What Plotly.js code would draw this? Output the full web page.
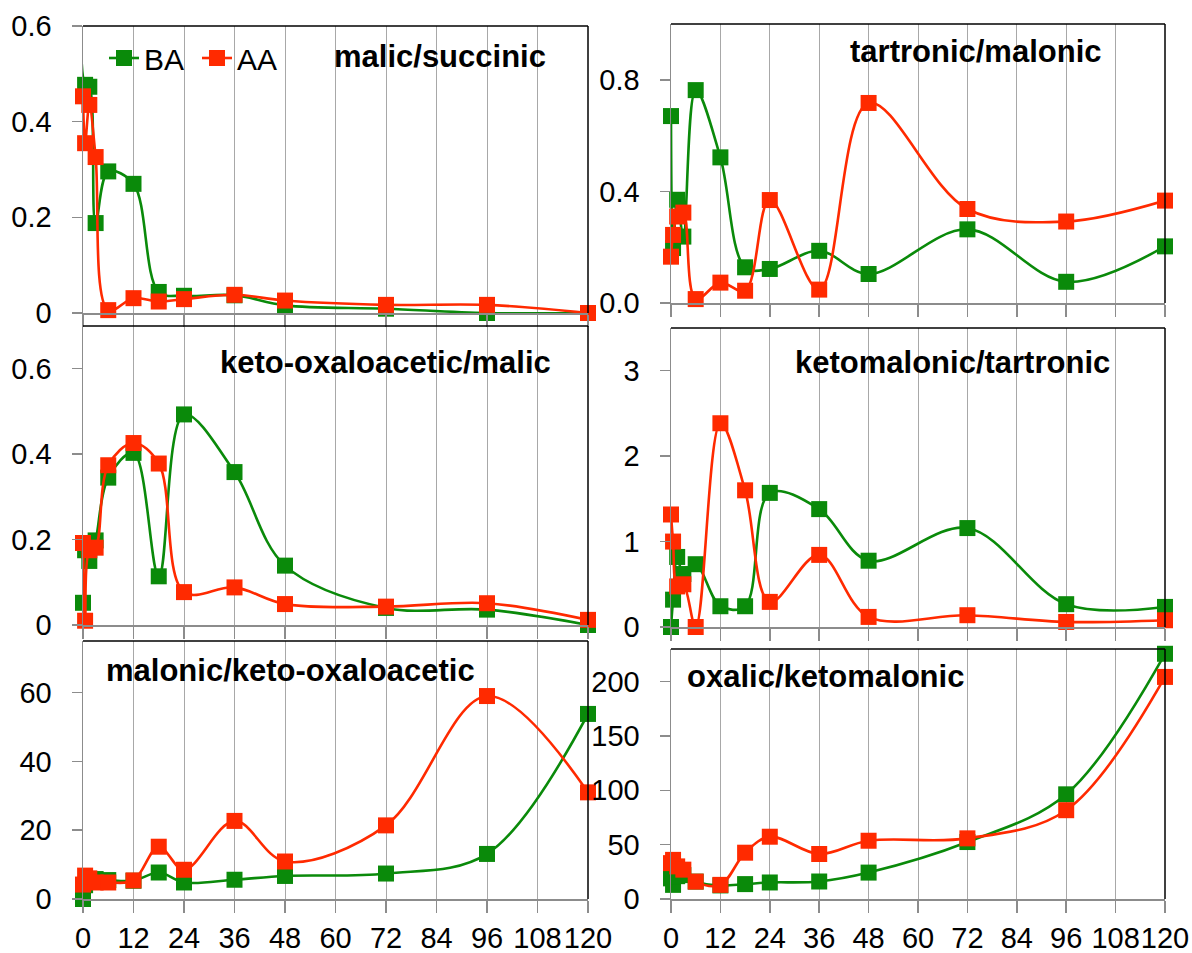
<!DOCTYPE html>
<html>
<head>
<meta charset="utf-8">
<script src="https://cdn.plot.ly/plotly-3.0.1.min.js"></script>
<style>html,body{margin:0;padding:0;background:#fff;}#chart{width:1192px;height:953px;}</style>
</head>
<body>
<div id="chart"></div>
<script>
// ---- data ----
var hours = [0, 0.5, 1.5, 3, 6, 12, 18, 24, 36, 48, 72, 96, 120];
var seriesNames = ["BA", "AA"];
var panelTitles = ["malic/succinic", "tartronic/malonic", "keto-oxaloacetic/malic",
                   "ketomalonic/tartronic", "malonic/keto-oxaloacetic", "oxalic/ketomalonic"];
var xTickVals = [0, 12, 24, 36, 48, 60, 72, 84, 96, 108, 120];

var malicSuccinicBA = [0.8, 0.477, 0.473, 0.188, 0.296, 0.27, 0.044, 0.036, 0.037, 0.016, 0.009, 0.0, 0.0];
var malicSuccinicAA = [0.453, 0.355, 0.435, 0.326, 0.006, 0.031, 0.024, 0.029, 0.038, 0.026, 0.017, 0.017, 0.0];

var tartronicMalonicBA = [0.67, 0.197, 0.37, 0.238, 0.763, 0.522, 0.128, 0.122, 0.187, 0.104, 0.264, 0.076, 0.203];
var tartronicMalonicAA = [0.166, 0.244, 0.31, 0.324, 0.014, 0.073, 0.044, 0.369, 0.048, 0.717, 0.337, 0.292, 0.367];

var ketoOxaloMalicBA = [0.052, 0.175, 0.15, 0.198, 0.345, 0.403, 0.114, 0.493, 0.358, 0.139, 0.04, 0.036, 0.0];
var ketoOxaloMalicAA = [0.192, 0.01, 0.175, 0.181, 0.374, 0.426, 0.378, 0.077, 0.088, 0.049, 0.043, 0.051, 0.012];

var ketomalonicTartronicBA = [0.0, 0.32, 0.82, 0.62, 0.735, 0.243, 0.243, 1.57, 1.38, 0.776, 1.158, 0.267, 0.235];
var ketomalonicTartronicAA = [1.317, 1.0, 0.475, 0.5, 0.0, 2.385, 1.6, 0.294, 0.844, 0.118, 0.138, 0.059, 0.079];

var malonicKetoOxaloBA = [0.0, 4.0, 5.5, 5.8, 5.5, 5.3, 7.7, 4.8, 5.6, 6.7, 7.4, 13.1, 53.8];
var malonicKetoOxaloAA = [4.2, 6.8, 6.0, 4.8, 4.8, 5.4, 15.2, 8.5, 22.7, 10.9, 21.4, 59.0, 31.0];

var oxalicKetomalonicBA = [19, 13, 21, 22, 16, 12.5, 13.7, 15.2, 16.1, 24.3, 52.4, 96.3, 225.6];
var oxalicKetomalonicAA = [33, 36, 30, 27, 16, 13, 42.6, 57.3, 41.4, 53.6, 55.8, 81.7, 204.3];

var panelBA = [malicSuccinicBA, tartronicMalonicBA, ketoOxaloMalicBA, ketomalonicTartronicBA, malonicKetoOxaloBA, oxalicKetomalonicBA];
var panelAA = [malicSuccinicAA, tartronicMalonicAA, ketoOxaloMalicAA, ketomalonicTartronicAA, malonicKetoOxaloAA, oxalicKetomalonicAA];

var yRanges = [[0, 0.6], [0, 1.0], [0, 0.7], [0, 3.5], [0, 75], [0, 230]];
var yDticks = [0.2, 0.4, 0.2, 1, 20, 50];
var yFormats = ["", ".1f", "", "", "", ""];

// ---- layout geometry (pixels) ----
var W = 1192, H = 953;
var colX = [[83, 588], [671, 1165]];
var rowY = [[26, 313], [24, 303], [326, 625], [328, 627], [641, 899], [649, 899]]; // per panel [top,bottom]
var titlePos = [[440, 56], [976, 52], [385, 362], [952, 362], [290, 670], [825, 676]];
var bands = [[83, 587, 33, 80], [844, 1136, 30, 70], [210, 562, 340, 381],
             [786, 1115, 343, 382], [83, 486, 642, 688], [672, 975, 650, 695]];

function px(x) { return x / W; }
function py(y) { return 1 - y / H; }

var GREEN = "#0a8a0a", RED = "#ff2a00";
var FONT = "Liberation Sans, Arial, Helvetica, sans-serif";

var traces = [];
var layout = {
  width: W, height: H,
  margin: {l: 0, r: 0, t: 0, b: 0},
  paper_bgcolor: "#fff", plot_bgcolor: "rgba(0,0,0,0)",
  font: {family: FONT, size: 29, color: "#000"},
  showlegend: true,
  legend: {
    orientation: "h", x: px(104), xanchor: "left", y: py(58), yanchor: "middle",
    bgcolor: "rgba(0,0,0,0)", font: {family: FONT, size: 30, color: "#000"},
    entrywidth: 48, entrywidthmode: "pixels", itemwidth: 30, tracegroupgap: 0
  },
  shapes: [], annotations: []
};

for (var p = 0; p < 6; p++) {
  var col = p % 2, row = Math.floor(p / 2);
  var ax = (p === 0) ? "" : String(p + 1);
  var xa = "x" + ax, ya = "y" + ax;
  var yr = rowY[p];
  layout["xaxis" + ax] = {
    domain: [px(colX[col][0]), px(colX[col][1])], anchor: ya,
    range: [0, 120], tickmode: "array", tickvals: xTickVals,
    showgrid: true, gridcolor: "#a8a8a8", gridwidth: 1, zeroline: false,
    showline: true, linecolor: "#8c8c8c", linewidth: 1.5,
    ticks: "outside", ticklen: 12, tickwidth: 1.5, tickcolor: "#8c8c8c",
    showticklabels: row === 2, tickangle: 0, ticklabelstandoff: 1,
    tickfont: {family: FONT, size: 29, color: "#000"}, fixedrange: true
  };
  layout["yaxis" + ax] = {
    domain: [py(yr[1]), py(yr[0])], anchor: xa,
    range: yRanges[p], dtick: yDticks[p], tick0: 0, tickformat: yFormats[p],
    showgrid: false, zeroline: false,
    showline: true, linecolor: "#8c8c8c", linewidth: 1.5,
    ticks: "outside", ticklen: 10, tickwidth: 1.5, tickcolor: "#8c8c8c",
    ticklabelstandoff: 14,
    tickfont: {family: FONT, size: 29, color: "#000"}, fixedrange: true
  };
  // black frame: top and right edges
  layout.shapes.push({type: "line", xref: "paper", yref: "paper",
    x0: px(colX[col][0]), x1: px(colX[col][1]), y0: py(yr[0]), y1: py(yr[0]),
    line: {color: "#000", width: 1.5}, layer: "above"});
  layout.shapes.push({type: "line", xref: "paper", yref: "paper",
    x0: px(colX[col][1]), x1: px(colX[col][1]), y0: py(yr[0]), y1: py(yr[1]),
    line: {color: "#000", width: 1.5}, layer: "above"});
  // white band behind titles/legend (hides gridlines only)
  var b = bands[p];
  layout.shapes.push({type: "rect", xref: "paper", yref: "paper",
    x0: px(b[0]), x1: px(b[1]), y0: py(b[3]), y1: py(b[2]),
    fillcolor: "#fff", line: {width: 0}, layer: "between"});
  layout.annotations.push({xref: "paper", yref: "paper", x: px(titlePos[p][0]), y: py(titlePos[p][1]),
    xanchor: "center", yanchor: "middle", showarrow: false,
    text: "<b>" + panelTitles[p] + "</b>", font: {family: FONT, size: 31, color: "#000"}});

  var sets = [panelBA[p], panelAA[p]];
  var colors = [GREEN, RED];
  for (var s = 0; s < 2; s++) {
    traces.push({
      type: "scatter", mode: "lines+markers", name: seriesNames[s],
      x: hours, y: sets[s], xaxis: xa, yaxis: ya,
      line: {color: colors[s], width: 2.6, shape: "spline", smoothing: 1},
      marker: {symbol: "square", size: 16, color: colors[s], line: {width: 0}},
      cliponaxis: false, showlegend: p === 0, hoverinfo: "skip"
    });
  }
}

Plotly.newPlot("chart", traces, layout, {staticPlot: true, displayModeBar: false});
</script>
</body>
</html>
